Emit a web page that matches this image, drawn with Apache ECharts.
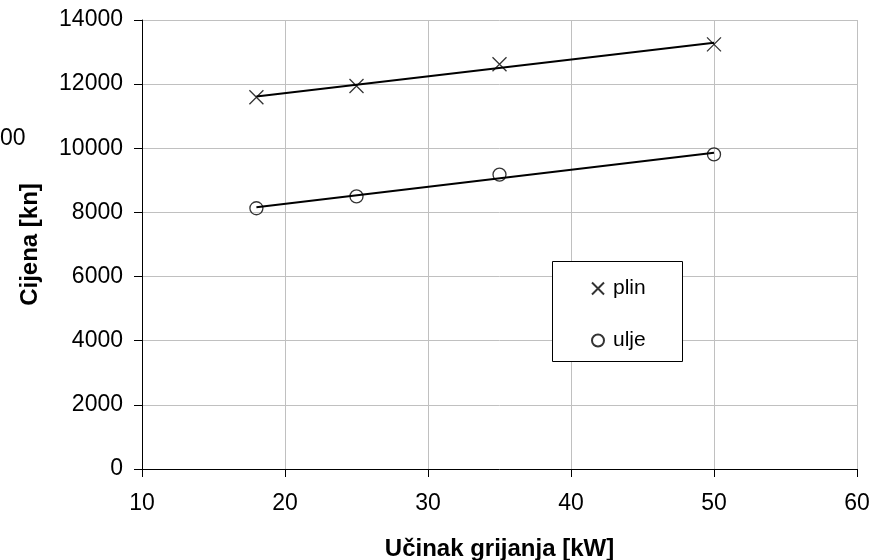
<!DOCTYPE html>
<html>
<head>
<meta charset="utf-8">
<script src="https://cdn.jsdelivr.net/npm/echarts@6/dist/echarts.min.js"></script>
<style>
  html, body { margin: 0; padding: 0; background: #fff; }
  #chart { width: 892px; height: 560px; }
</style>
</head>
<body>
<div id="chart"></div>
<script>
// Heating output [kW] and price [kn] for gas and oil boilers
const ucinak = [18, 25, 35, 50];
const cijenaPlin = [11590, 11940, 12620, 13240];
const cijenaUlje = [8130, 8500, 9180, 9810];

const xTicks = { min: 10, max: 60, interval: 10 };
const yTicks = { min: 0, max: 14000, interval: 2000 };

const FONT = "'Liberation Sans', Arial, sans-serif";

// Least-squares linear trend, evaluated at the first and last x value
function trend(xs, ys) {
  const n = xs.length;
  const mx = xs.reduce((a, b) => a + b, 0) / n;
  const my = ys.reduce((a, b) => a + b, 0) / n;
  let sxy = 0, sxx = 0;
  for (let i = 0; i < n; i++) {
    sxy += (xs[i] - mx) * (ys[i] - my);
    sxx += (xs[i] - mx) * (xs[i] - mx);
  }
  const k = sxy / sxx;
  const x0 = Math.min(...xs), x1 = Math.max(...xs);
  return [[x0, my + k * (x0 - mx)], [x1, my + k * (x1 - mx)]];
}

const pairs = (xs, ys) => xs.map((x, i) => [x, ys[i]]);
const CROSS = 'path://M0,0L10,10M10,0L0,10';

const chart = echarts.init(document.getElementById('chart'), null, { renderer: 'canvas' });
chart.setOption({
  animation: false,
  backgroundColor: '#fff',
  textStyle: { fontFamily: FONT },
  grid: { left: 142, right: 35, top: 20, bottom: 91, containLabel: false, outerBoundsMode: 'none' },
  xAxis: {
    type: 'value',
    min: xTicks.min, max: xTicks.max, interval: xTicks.interval,
    name: 'Učinak grijanja [kW]',
    nameLocation: 'middle',
    nameGap: 68,
    nameTextStyle: { fontFamily: FONT, fontSize: 24, fontWeight: 'bold', color: '#000' },
    axisLine: { show: true, lineStyle: { color: '#000', width: 1 } },
    axisTick: { show: true, inside: false, length: 8, lineStyle: { color: '#000' } },
    axisLabel: { margin: 23, fontFamily: FONT, fontSize: 23, color: '#000', formatter: v => String(v) },
    splitLine: { show: true, lineStyle: { color: '#c0c0c0', width: 1 } }
  },
  yAxis: {
    type: 'value',
    min: yTicks.min, max: yTicks.max, interval: yTicks.interval,
    name: 'Cijena [kn]',
    nameLocation: 'middle',
    nameGap: 100,
    nameRotate: 90,
    nameTextStyle: { fontFamily: FONT, fontSize: 24, fontWeight: 'bold', color: '#000' },
    axisLine: { show: true, lineStyle: { color: '#000', width: 1 } },
    axisTick: { show: true, inside: false, length: 8, lineStyle: { color: '#000' } },
    axisLabel: { margin: 19, fontFamily: FONT, fontSize: 23, color: '#000', formatter: v => String(v) },
    splitLine: { show: true, lineStyle: { color: '#c0c0c0', width: 1 } }
  },
  legend: {
    orient: 'vertical',
    left: 591, top: 278,
    z: 10,
    itemWidth: 12, itemHeight: 12,
    itemGap: 31,
    padding: 0,
    data: ['plin', 'ulje'],
    textStyle: { fontFamily: FONT, fontSize: 21, color: '#000', padding: [0, 0, 0, 4] }
  },
  graphic: [
    {
      type: 'rect', left: 552, top: 261, z: 2,
      shape: { width: 130, height: 100 },
      style: { fill: '#fff', stroke: '#000', lineWidth: 1 }
    },
    {
      type: 'text', left: 0, top: 127, z: 5,
      style: { text: '00', font: '23px ' + FONT, fill: '#000' }
    }
  ],
  series: [
    {
      name: 'plin-trend', type: 'line', data: trend(ucinak, cijenaPlin),
      symbol: 'none', lineStyle: { color: '#000', width: 2 }, z: 3, silent: true
    },
    {
      name: 'ulje-trend', type: 'line', data: trend(ucinak, cijenaUlje),
      symbol: 'none', lineStyle: { color: '#000', width: 2 }, z: 3, silent: true
    },
    {
      name: 'plin', type: 'scatter', data: pairs(ucinak, cijenaPlin),
      symbol: CROSS, symbolSize: 14, z: 4,
      itemStyle: { color: 'rgba(0,0,0,0)', borderColor: '#000', borderWidth: 1.3 }
    },
    {
      name: 'ulje', type: 'scatter', data: pairs(ucinak, cijenaUlje),
      symbol: 'circle', symbolSize: 13, z: 4,
      itemStyle: { color: 'rgba(0,0,0,0)', borderColor: '#000', borderWidth: 1.3 }
    }
  ]
});
</script>
</body>
</html>
